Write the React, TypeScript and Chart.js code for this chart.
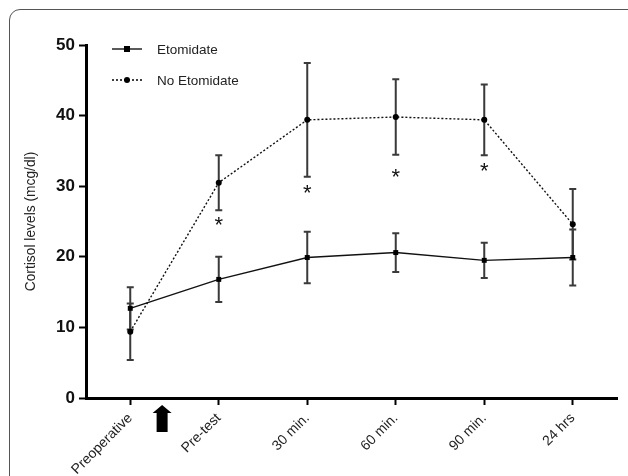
import React, { useEffect, useRef } from "react";
import { Chart, registerables } from "chart.js";

Chart.register(...registerables);

const categories = ["Preoperative", "Pre-test", "30 min.", "60 min.", "90 min.", "24 hrs"];
const etomidateMean = [12.7, 16.8, 19.9, 20.6, 19.5, 19.9];
const etomidateErr = [3.0, 3.2, 3.65, 2.75, 2.5, 3.95];
const noEtomidateMean = [9.4, 30.5, 39.4, 39.8, 39.4, 24.6];
const noEtomidateErr = [4.0, 3.9, 8.05, 5.35, 5.0, 5.0];
const significanceAt = [null, 25.0, 29.5, 31.8, 32.6, null];
const yTicks = [0, 10, 20, 30, 40, 50];
const seriesLabels = ["Etomidate", "No Etomidate"];
const treatmentArrowAt = 0.36; // category offset of the treatment arrow

const FONT = "'Liberation Sans', Arial, sans-serif";

const errorBarPlugin = {
  id: "errorBars",
  beforeDatasetsDraw(chart: any) {
    const ctx = chart.ctx;
    const x = chart.scales.x;
    const y = chart.scales.y;
    const sets = [
      { m: etomidateMean, e: etomidateErr },
      { m: noEtomidateMean, e: noEtomidateErr },
    ];
    ctx.save();
    ctx.strokeStyle = "#3a3a3a";
    ctx.lineWidth = 2;
    sets.forEach((s) => {
      s.m.forEach((v, i) => {
        const px = x.getPixelForValue(i);
        const top = y.getPixelForValue(v + s.e[i]);
        const bot = y.getPixelForValue(v - s.e[i]);
        ctx.beginPath();
        ctx.moveTo(px, top);
        ctx.lineTo(px, bot);
        ctx.moveTo(px - 3.5, top);
        ctx.lineTo(px + 3.5, top);
        ctx.moveTo(px - 3.5, bot);
        ctx.lineTo(px + 3.5, bot);
        ctx.stroke();
      });
    });
    ctx.restore();
  },
  afterDatasetsDraw(chart: any) {
    const ctx = chart.ctx;
    const x = chart.scales.x;
    const y = chart.scales.y;
    ctx.save();
    // significance asterisks
    ctx.fillStyle = "#111";
    ctx.font = `22px ${FONT}`;
    ctx.textAlign = "center";
    ctx.textBaseline = "middle";
    significanceAt.forEach((v, i) => {
      if (v == null) return;
      ctx.fillText("*", x.getPixelForValue(i), y.getPixelForValue(v) + 4);
    });
    // treatment arrow below axis
    const ax = x.getPixelForValue(0) + (x.getPixelForValue(1) - x.getPixelForValue(0)) * treatmentArrowAt;
    const ay = chart.chartArea.bottom;
    ctx.fillStyle = "#000";
    ctx.beginPath();
    ctx.moveTo(ax, ay + 7);
    ctx.lineTo(ax + 9.5, ay + 15);
    ctx.lineTo(ax + 5.5, ay + 15);
    ctx.lineTo(ax + 5.5, ay + 34);
    ctx.lineTo(ax - 5.5, ay + 34);
    ctx.lineTo(ax - 5.5, ay + 15);
    ctx.lineTo(ax - 9.5, ay + 15);
    ctx.closePath();
    ctx.fill();
    // legend
    const lx = chart.chartArea.left + 26;
    const rows = [
      { y: chart.chartArea.top + 4, dash: [], square: true },
      { y: chart.chartArea.top + 35, dash: [2, 2], square: false },
    ];
    rows.forEach((r, i) => {
      ctx.strokeStyle = "#000";
      ctx.lineWidth = 1.3;
      ctx.setLineDash(r.dash);
      ctx.beginPath();
      ctx.moveTo(lx, r.y);
      ctx.lineTo(lx + 30, r.y);
      ctx.stroke();
      ctx.setLineDash([]);
      ctx.fillStyle = "#000";
      if (r.square) ctx.fillRect(lx + 12, r.y - 3, 6, 6);
      else {
        ctx.beginPath();
        ctx.arc(lx + 15, r.y, 3, 0, Math.PI * 2);
        ctx.fill();
      }
      ctx.fillStyle = "#222";
      ctx.font = `13.5px ${FONT}`;
      ctx.textAlign = "left";
      ctx.textBaseline = "middle";
      ctx.fillText(seriesLabels[i], lx + 45, r.y + 1);
    });
    ctx.restore();
  },
};

export default function App() {
  const ref = useRef<HTMLCanvasElement | null>(null);
  useEffect(() => {
    if (!ref.current) return;
    const chart = new Chart(ref.current, {
      type: "line",
      data: {
        labels: categories,
        datasets: [
          {
            label: seriesLabels[0],
            data: etomidateMean,
            borderColor: "#111",
            borderWidth: 1.4,
            pointStyle: "rect",
            pointRadius: 3.5,
            pointBackgroundColor: "#000",
            pointBorderColor: "#000",
            pointBorderWidth: 0,
            fill: false,
            tension: 0,
          },
          {
            label: seriesLabels[1],
            data: noEtomidateMean,
            borderColor: "#111",
            borderWidth: 1.4,
            borderDash: [2, 2],
            pointStyle: "circle",
            pointRadius: 3,
            pointBackgroundColor: "#000",
            pointBorderColor: "#000",
            pointBorderWidth: 0,
            fill: false,
            tension: 0,
          },
        ],
      },
      options: {
        responsive: false,
        animation: false,
        layout: { padding: { left: 20, top: 45, right: 11, bottom: 0 } },
        plugins: { legend: { display: false }, tooltip: { enabled: false } },
        scales: {
          x: {
            type: "category",
            offset: true,
            grid: {
              offset: false,
              drawOnChartArea: false,
              drawTicks: true,
              tickLength: 7,
              tickColor: "#000",
              tickWidth: 2,
            },
            border: { display: true, color: "#000", width: 3 },
            ticks: {
              minRotation: 45,
              maxRotation: 45,
              color: "#222",
              font: { family: FONT, size: 14 },
              padding: 5,
              autoSkip: false,
            },
            afterFit(scale: any) {
              scale.height = 78;
            },
          },
          y: {
            min: 0,
            max: 50,
            afterBuildTicks(scale: any) {
              scale.ticks = yTicks.map((v) => ({ value: v }));
            },
            grid: {
              drawOnChartArea: false,
              drawTicks: true,
              tickLength: 7,
              tickColor: "#000",
              tickWidth: 2,
            },
            border: { display: true, color: "#000", width: 3 },
            ticks: {
              color: "#111",
              font: { family: FONT, size: 17, weight: "bold" },
              padding: 4,
            },
            title: {
              display: true,
              text: "Cortisol levels (mcg/dl)",
              color: "#222",
              font: { family: FONT, size: 13.8 },
              padding: { top: 3, bottom: 0 },
            },
            afterFit(scale: any) {
              scale.width = 66;
            },
          },
        },
      },
      plugins: [errorBarPlugin],
    } as any);
    return () => chart.destroy();
  }, []);

  return (
    <div
      style={{
        position: "fixed",
        left: 0,
        top: 0,
        width: 628,
        height: 476,
        overflow: "hidden",
        background: "#fff",
      }}
    >
      <div
        style={{
          position: "absolute",
          left: 9,
          top: 9,
          width: 640,
          height: 600,
          border: "1.5px solid #555",
          borderRadius: 11,
          boxSizing: "border-box",
        }}
      />
      <canvas
        ref={ref}
        width={628}
        height={476}
        style={{ position: "absolute", left: 0, top: 0, width: 628, height: 476 }}
      />
    </div>
  );
}
